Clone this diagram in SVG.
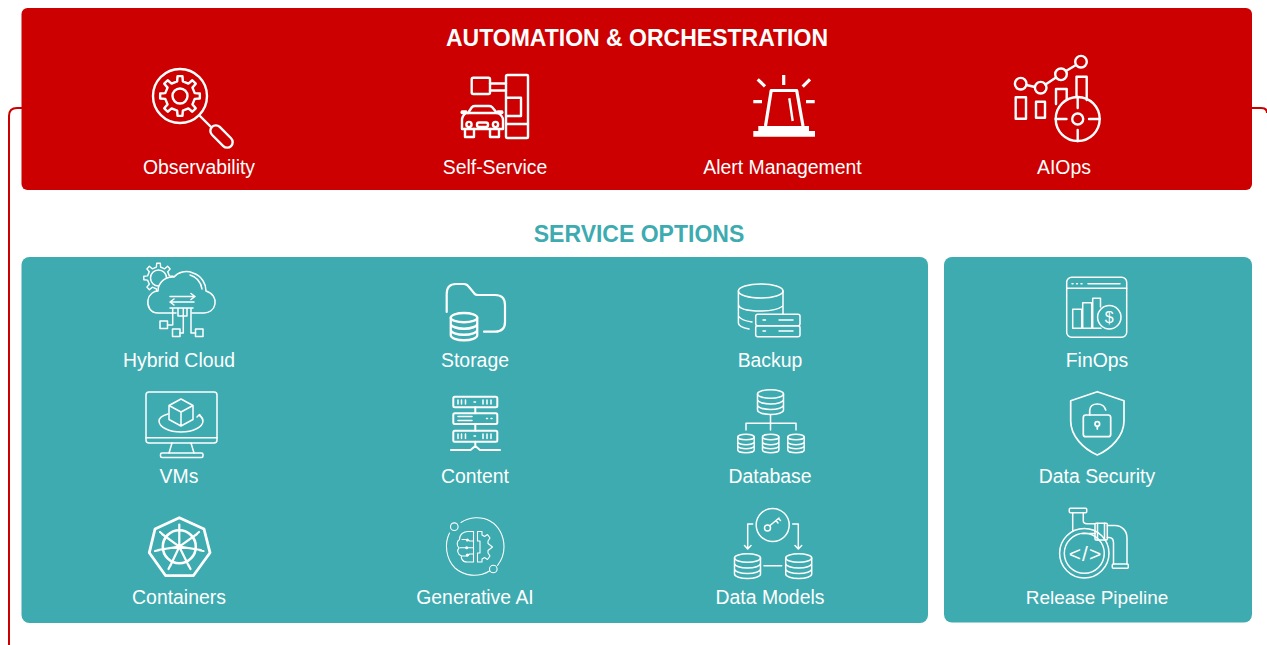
<svg xmlns="http://www.w3.org/2000/svg" width="1267" height="645" viewBox="0 0 1267 645">
<style>
text{font-family:"Liberation Sans",Arial,sans-serif;fill:#fff;text-anchor:middle}
.l{font-size:19.4px}
.t{font-size:23px;font-weight:700}
.s{fill:none;stroke:#fff;stroke-width:2;stroke-linecap:round;stroke-linejoin:round}
.r{stroke-width:2.4}
.h{stroke-width:1.5}
.ft{fill:#3dabb0}
.w{fill:#fff;stroke:none}
</style>
<defs>
<path id="gear" d="M14.72-2.86L19.85-2.44V2.44L14.72 2.86L12.44 8.39L15.76 12.31L12.31 15.76L8.39 12.44L2.86 14.72L2.44 19.85H-2.44L-2.86 14.72L-8.39 12.44L-12.31 15.76L-15.76 12.31L-12.44 8.39L-14.72 2.86L-19.85 2.44V-2.44L-14.72-2.86L-12.44-8.39L-15.76-12.31L-12.31-15.76L-8.39-12.44L-2.86-14.72L-2.44-19.85H2.44L2.86-14.72L8.39-12.44L12.31-15.76L15.76-12.31L12.44-8.39Z"/>
<g id="db3"><ellipse cx="0" cy="-8" rx="13" ry="4.2"/><path d="M-13-8V8C-13 10.5-7 12.5 0 12.5S13 10.5 13 8V-8M-13-2.5C-13 0-7 2 0 2S13 0 13-2.5M-13 3C-13 5.5-7 7.5 0 7.5S13 5.5 13 3"/></g>
<g id="dbs"><ellipse cx="0" cy="-6.5" rx="8.2" ry="2.8"/><path d="M-8.2-6.5V6.5C-8.2 8.2-4 9.3 0 9.3S8.2 8.2 8.2 6.5V-6.5M-8.2-1.5C-8.2 0-4 1.2 0 1.2S8.2 0 8.2-1.5M-8.2 2.5C-8.2 4-4 5.2 0 5.2S8.2 4 8.2 2.5"/></g>
</defs>

<g id="connectors">
<path d="M22 108H17Q9 108 9 116V645M1252 108H1261Q1267 108 1267 113" fill="none" stroke="#cc0000" stroke-width="2"/>
</g>

<g id="automation-panel">
<rect x="21.500" y="8" width="1230.500" height="182" rx="6" fill="#cc0000"/>
<text class="t" x="637" y="46">AUTOMATION &amp; ORCHESTRATION</text>
</g>

<g id="observability">
<g class="s r">
<circle cx="180" cy="96" r="27"/>
<use href="#gear" transform="translate(180 96)"/>
<circle cx="180" cy="96" r="7.500"/>
<path d="M200 116L210.500 126.500"/>
<rect x="208" y="131" width="27" height="11" rx="5.500" transform="rotate(45 221.500 136.500)"/>
</g>
<text class="l" x="199" y="174">Observability</text>
</g>

<g id="self-service">
<g class="s r">
<rect x="471.700" y="77.700" width="18.300" height="16.300" rx="1.500"/>
<path d="M490 83.500H506M490 90.500H506"/>
<path d="M506 97.700V76.500Q506 75 507.500 75H527Q528 75 528 76V137Q528 138 527 138H507.500Q506 138 506 136.500V116M506 97.700H521V116H506V97.700"/>
<path d="M506 124H528"/>
<path d="M468 113L472 107Q473 106 475 106H489Q491 106 492 107L497 113"/>
<path d="M466 113H498Q503 116 503 120V129H462V120Q462 116 466 113Z"/>
<path d="M466 113H462.500Q461 113 462 111.500H466M498 113H501.500Q503 113 502 111.500H498"/>
<path d="M465 129V137H474V129M490 129V137H499V129"/>
<circle cx="469" cy="124.500" r="2.600"/><circle cx="495.500" cy="124.500" r="2.600"/>
<rect x="477" y="122.500" width="11" height="4.500" rx="2"/>
</g>
<text class="l" x="495" y="174">Self-Service</text>
</g>

<g id="alert-management">
<path class="s" style="stroke-width:3.200;stroke-linecap:butt" d="M783.700 75V85M757.700 79.300L765 86.300M810 79.300L802.700 86.700M753.300 101.700H762M806 101.700H814.700"/>
<path class="s" style="stroke-width:3.200;stroke-linecap:butt" d="M765.500 126L771.200 90.500H796.700L803 126"/>
<path class="s" style="stroke-width:2.400;stroke-linecap:butt" d="M789.300 98.300L792.700 121"/>
<path class="w" d="M758.300 126H809V131H815V136.700H753.300V131H758.300Z"/>
<text class="l" x="782.500" y="174">Alert Management</text>
</g>

<g id="aiops">
<g class="s r">
<circle cx="1020.700" cy="83.700" r="5.800"/><circle cx="1040.700" cy="87.700" r="5.800"/><circle cx="1061" cy="74.300" r="5.800"/><circle cx="1081" cy="61.700" r="5.800"/>
<path d="M1026.300 85L1035 87M1045.500 84.500L1056 77.500M1066 71L1076 65"/>
<rect x="1015.700" y="97.300" width="10.300" height="21.400"/>
<rect x="1036" y="101.700" width="9" height="16"/>
<path d="M1056 104V89H1066.700V99M1076.500 97V76.700H1086.700V100"/>
<circle cx="1077.700" cy="119" r="22"/><circle cx="1077.700" cy="119" r="5.500"/>
<path d="M1077.700 97V108M1077.700 130V141M1055.700 119H1066.500M1089 119H1099.700"/>
</g>
<text class="l" x="1064" y="174">AIOps</text>
</g>

<g id="service-options-title">
<text class="t" x="639" y="242" style="fill:#3dabb0">SERVICE OPTIONS</text>
</g>
<g id="service-panels">
<rect x="21.500" y="257" width="906.500" height="366" rx="8" fill="#3dabb0"/>
<rect x="944" y="257" width="308" height="365.500" rx="8" fill="#3dabb0"/>
</g>

<g id="hybrid-cloud">
<g class="s h">
<use href="#gear" transform="translate(158.500 278) scale(.74)" style="stroke-width:1.900"/>
<circle cx="158.500" cy="278" r="8"/>
<path class="ft" d="M158 313C150 313 147 306 148 300C149 294 154 291 158 291C158 283 165 276 174 277C178 272 186 270 193 273C202 276 206 284 206 291C213 293 216 299 215 304C214 310 209 313 204 313H192M176 313H158Z"/>
<path d="M190 275C197 277 201 283 202 289"/>
<path d="M170 296.500H195M191 293.500L195 296.500L191 299.500M194 302H170M174 299L170 302L174 305"/>
<path d="M170 308H193M172.700 308V325H167.500M183.300 308V333H180M191 308V333H195.500M178 308V316H187V308"/>
<rect x="160" y="321" width="7.500" height="7.500"/><rect x="172.500" y="329" width="7.500" height="7.500"/><rect x="195.500" y="329" width="7.500" height="7.500"/>
</g>
<text class="l" x="179" y="367">Hybrid Cloud</text>
</g>

<g id="storage">
<g class="s" style="stroke-width:2.200">
<path d="M446.700 312V294Q446.700 284 456 284H464Q467 284 469 287L474 293Q475 295 478 295H495Q505 295 505 305V322Q505 331.700 495 331.700H484"/>
<use href="#db3" transform="translate(464 326.500) scale(1.020 1.100)"/>
</g>
<text class="l" x="475" y="367">Storage</text>
</g>

<g id="backup">
<g class="s h">
<ellipse cx="760.700" cy="291" rx="22.300" ry="7"/>
<path d="M738.400 291V323C738.400 326 744 328 749 329M783 291V314M738.400 304C738.400 309 748 311 760.700 311C770 311 778 309.500 783 306M738.400 316C740 319 745 321 752 322"/>
<rect x="755.700" y="314.300" width="44.300" height="11.400" rx="2"/><rect x="755.700" y="325.700" width="44.300" height="11" rx="2"/>
<path d="M763 320H765.500M763 331H765.500M779 320H793M779 331H793"/>
</g>
<text class="l" x="770" y="367">Backup</text>
</g>

<g id="finops">
<g class="s h">
<rect x="1066.700" y="277.300" width="60" height="60" rx="5"/>
<path d="M1066.700 288.300H1126.700M1072 283.700H1073M1076.500 283.700H1077.500M1081 283.700H1082M1088 283.700H1120"/>
<rect x="1072.700" y="309.300" width="9" height="19"/><rect x="1082.700" y="302.700" width="9" height="25.600"/>
<path d="M1092.700 328.300V298.300H1100.500V307M1092.700 328.300H1101"/>
<circle class="ft" cx="1109.300" cy="317.300" r="11.700"/>
</g>
<text x="1109.300" y="323" style="font-size:16px">$</text>
<text class="l" x="1097" y="367">FinOps</text>
</g>

<g id="vms">
<g class="s h">
<rect x="146" y="392" width="71" height="51" rx="3"/>
<path d="M146 437.700H217M172 443L169 453M191 443L194 453"/>
<rect x="160.500" y="453" width="42.500" height="4.500" rx="1.500"/>
<path d="M181 399L193 405.500V419.500L181 426L169 419.500V405.500ZM169 405.500L181 412L193 405.500M181 412V426"/>
<path d="M168 414C163 415.500 159 418 159 421C159 427 169 432 181 432C193 432 203 427 203 421C203 419 202 417 199.500 415.500M197 417L199.500 414.500L201.500 417.500"/>
</g>
<text class="l" x="179" y="483">VMs</text>
</g>

<g id="content">
<g class="s">
<rect x="453.300" y="396.700" width="44" height="10.600" rx="1.500"/>
<rect x="453.300" y="413.300" width="44" height="10.700" rx="1.500"/>
<rect x="453.300" y="430.700" width="44" height="11" rx="1.500"/>
<path d="M475.300 407.300V413.300M475.300 424V430.700M475.300 441.700V447M451 450H470.500L475.300 446L480 450H500"/>
<path style="stroke-width:1.500" d="M458 400V404M461.500 400V404M465.500 400V404M474 402H475.500M483 400V404M487 400V404M491 400V404M458 434V438.500M461.500 434V438.500M465.500 434V438.500M474 436H475.500M483 434V438.500M487 434V438.500M491 434V438.500M458 416.500H472M458 420.500H472M486.500 418.500H487.500M491 418.500H492"/>
</g>
<text class="l" x="475" y="483">Content</text>
</g>

<g id="database">
<g class="s h">
<use href="#db3" transform="translate(770.500 402)"/>
<path d="M770.500 415V430M746 430V423.300H796V430"/>
<use href="#dbs" transform="translate(746 443.500)"/><use href="#dbs" transform="translate(770.700 443.500)"/><use href="#dbs" transform="translate(796 443.500)"/>
</g>
<text class="l" x="770" y="483">Database</text>
</g>

<g id="data-security">
<g class="s" style="stroke-width:1.700">
<path d="M1097.300 391.700L1124 400.700V421C1124 436 1111 449 1097.300 455C1083.500 449 1070.700 436 1070.700 421V400.700Z"/>
<rect x="1083.300" y="415" width="27.400" height="21.700" rx="2.500"/>
<path d="M1089.700 415V410.500C1089.700 406.500 1093 404 1097.300 404C1101.500 404 1104.700 406.500 1105.700 410"/>
<circle cx="1097.300" cy="424" r="2.300"/><path d="M1097.300 426.300V429"/>
</g>
<text class="l" x="1097" y="483">Data Security</text>
</g>

<g id="containers">
<g class="s">
<path style="stroke-width:2.800" d="M179.300 517.700L204 529L210 552.700L193.300 575.700H165.700L149.300 552.700L155 529Z"/>
<circle cx="179.300" cy="546.700" r="16.500" style="stroke-width:2.600"/>
<path style="stroke-width:2.200" d="M179.300 527V546.700M197 534L179.300 546.700M201 550L179.300 546.700M189 566.500L179.300 546.700M170 566.500L179.300 546.700M158 550L179.300 546.700M162 534L179.300 546.700M179.300 524.500V528M199 532L195.500 535M203.500 551L199.500 550.200M190.500 569L188.500 565M168.500 569L170.500 565M155 551L159 550.200M160 532L163.500 535"/>
</g>
<text class="l" x="179" y="604">Containers</text>
</g>

<g id="generative-ai">
<g class="s" style="stroke-width:1.100">
<path d="M461 522.500C469 517 481 516 490 521C499 526 504 536 504 547C504 554 501 561 497.500 565.500M489.500 571C478 578 464 576 455 568C446 559 444 544 449.500 533"/>
<circle cx="454.300" cy="526.700" r="3.800"/><circle cx="493.300" cy="569" r="3.800"/>
<path d="M473.500 531.500V562H467C461.500 562 461 557 461.500 556C457 554 457 550 459 548C456.500 546 456.500 541 459.500 539.500C459.500 534 464 531.500 468 531.500Z"/>
<path d="M460 547.700H473.500M462 539.500H467.300L469.500 541H473.500M462 556H467.300L469.500 554H473.500"/>
<path d="M477.500 531.500H482V535L484.500 536.500L487.500 534.500L490 538L488 541V543.500L492.500 547L488 550.500V553L490 556L487.500 559.500L484.500 557.500L482 559V562H477.500V553H480V541H477.500Z"/>
<circle class="w" cx="467.300" cy="540" r="1.500"/><circle class="w" cx="466.700" cy="547.700" r="1.500"/><circle class="w" cx="467.300" cy="555" r="1.500"/>
</g>
<text class="l" x="475" y="604">Generative AI</text>
</g>

<g id="data-models">
<g class="s h">
<circle cx="772.700" cy="525" r="16.500"/>
<circle cx="767.500" cy="528" r="3"/>
<path d="M770 525.500L779 518M776 520.500L778 523M778.500 518.500L780.500 520.500"/>
<path d="M752.700 524H747.700V548M744.500 545.500L747.700 549L751 545.500M792.700 524H798.300V548M795 545.500L798.300 549L801.700 545.500M764 565.700H781.700"/>
<use href="#db3" transform="translate(747.500 566)"/>
<use href="#db3" transform="translate(798.700 566)"/>
</g>
<text class="l" x="770" y="604">Data Models</text>
</g>

<g id="release-pipeline">
<g class="s h">
<circle cx="1084.300" cy="553.300" r="24.700"/><circle cx="1084.300" cy="553.300" r="20"/>
<rect x="1069.300" y="508.300" width="17.400" height="4.400" rx="1"/>
<path d="M1072.700 512.700V530.500M1083.300 512.700V521C1083.300 523 1085 523.700 1087 523.700H1095M1082 533.500H1095M1107.300 525.500H1115C1122 525.500 1127 531 1127 538V564M1107.300 537.500H1109C1112 537.500 1113.500 540 1113.500 543V564"/>
<rect x="1095" y="523.300" width="12.300" height="16.700" rx="1"/>
<path d="M1097.500 523.300V540M1104.500 523.300V540"/>
<rect x="1112.300" y="564" width="16" height="4.300" rx="1"/>
</g>
<text x="1085.500" y="560.500" style="font-size:21px;letter-spacing:1px">&lt;/&gt;</text>
<text x="1097" y="604" style="font-size:19px">Release Pipeline</text>
</g>
</svg>
